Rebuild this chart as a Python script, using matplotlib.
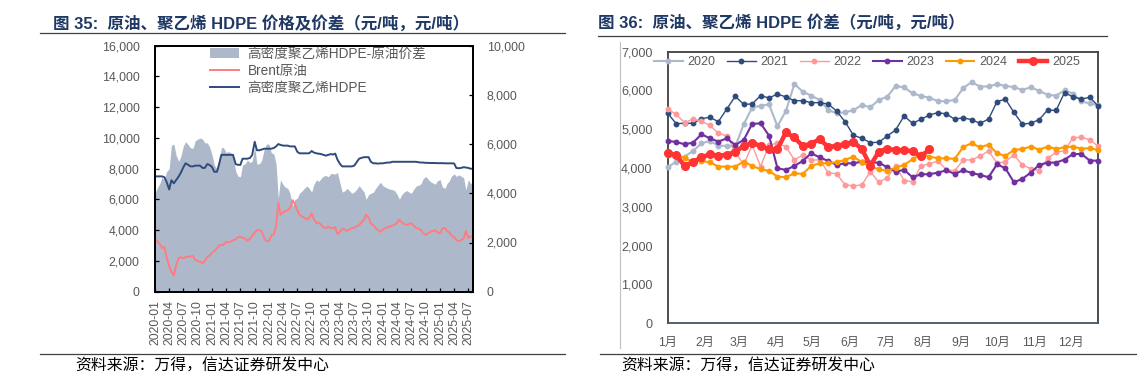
import numpy as np
import pandas as pd
import matplotlib
matplotlib.use('Agg')
import matplotlib.pyplot as plt
import matplotlib.dates as mdates
from matplotlib.ticker import FuncFormatter, MultipleLocator
from matplotlib.lines import Line2D
from matplotlib.patches import Patch

plt.rcParams['font.family'] = ['Liberation Sans', 'Noto Sans CJK SC']

# ---------------- Left chart data (semi-monthly, 2020-01 .. 2025-08) ----------------
hdpe = [7500, 7500, 7500, 7500, 7450, 7150, 6650, 7250, 7050, 7250,
        7500, 7750, 8100, 8350, 8250, 8150, 8150, 8200, 8200, 8200,
        8050, 8050, 8300, 8250, 8100, 7800, 7800, 8300, 8900, 8900,
        8900, 8900, 8900, 8900, 8300, 8250, 8250, 8650, 8650, 8650,
        8700, 8900, 9750, 9200, 9200, 9250, 9300, 9300, 9300, 9300,
        9350, 9450, 9600, 9550, 9500, 9500, 9500, 9450, 9450, 9450,
        9100, 9000, 9000, 9000, 9000, 9000, 9150, 9050, 9000, 8980,
        8950, 8900, 8850, 8900, 8950, 8920, 8980, 8600, 8300, 8150,
        8150, 8150, 8150, 8150, 8200, 8400, 8650, 8700, 8750, 8750,
        8750, 8450, 8350, 8350, 8330, 8350, 8350, 8380, 8400, 8400,
        8450, 8450, 8450, 8450, 8450, 8450, 8450, 8450, 8450, 8450,
        8450, 8420, 8400, 8400, 8380, 8380, 8370, 8370, 8370, 8360,
        8360, 8360, 8350, 8350, 8350, 8350, 8340, 8050, 8030, 8050,
        8100, 8080, 8050, 8000, 8000]
brent = [3470, 3300, 3100, 2850, 2900, 2280, 1650, 1300, 1050, 1700,
         2200, 2250, 2170, 2250, 2280, 2300, 2320, 2060, 2000, 1950,
         1850, 2000, 2250, 2350, 2550, 2650, 2820, 3000, 3050, 3040,
         3250, 3200, 3250, 3350, 3400, 3550, 3580, 3500, 3450, 3300,
         3450, 3600, 3850, 4010, 4000, 3900, 3500, 3300, 3300, 3650,
         3750, 4250, 5800, 5000, 5150, 5250, 5300, 5450, 5950, 5700,
         5300, 5000, 4900, 4800, 4700, 4800, 5100, 4700, 4450, 4500,
         4350, 4200, 4125, 4233, 4150, 4120, 4200, 3750, 3900, 4100,
         4050, 3950, 4050, 4150, 4150, 4250, 4340, 4500, 4690, 5000,
         4800, 4450, 4300, 4150, 4000, 3900, 4050, 4125, 4200, 4233,
         4300, 4340, 4500, 4690, 4500, 4400, 4340, 4400, 4450, 4300,
         4150, 4100, 4015, 3800, 3700, 3800, 3900, 3950, 4000, 3850,
         3800, 4100, 4150, 3950, 3850, 3650, 3550, 3365, 3280, 3350,
         3470, 3950, 3500, 3600, 3550]
dates = pd.date_range('2020-01-01', periods=len(hdpe), freq='SMS')
spread = np.array(hdpe) - np.array(brent)

label_spread = '高密度聚乙烯HDPE-原油价差'
label_brent = 'Brent原油'
label_hdpe = '高密度聚乙烯HDPE'

# ---------------- Right chart data (weekly spread by year) ----------------
years = ['2020', '2021', '2022', '2023', '2024', '2025']
y2020 = [4021, 4167, 4296, 4442, 4640, 4700, 4579, 4571, 4554, 5129,
         5558, 5609, 5640, 5080, 5472, 6167, 5970, 5867, 5755, 5498,
         5412, 5440, 5490, 5627, 5567, 5755, 5841, 6116, 6080, 5927,
         5860, 5815, 5725, 5725, 5755, 6065, 6215, 6099, 6107, 6163,
         6116, 6090, 6013, 6085, 5988, 5890, 5867, 6005, 5920, 5720,
         5665, 5620]
y2021 = [5412, 5146, 5155, 5155, 5275, 5309, 5197, 5524, 5850, 5644,
         5652, 5867, 5807, 5910, 5833, 5738, 5738, 5687, 5687, 5652,
         5472, 5197, 4845, 4768, 4657, 4665, 4828, 4983, 5343, 5155,
         5258, 5369, 5430, 5395, 5258, 5300, 5245, 5155, 5262, 5712,
         5777, 5438, 5135, 5155, 5250, 5498, 5485, 5948, 5832, 5781,
         5824, 5595]
y2022 = [5520, 5387, 5172, 5266, 5210, 5100, 4897, 4828, 4425, 4082,
         4597, 4039, 4597, 4640, 4554, 4210, 4339, 4210, 4210, 3884,
         3850, 3575, 3541, 3567, 3910, 3635, 3755, 4056, 3678, 3652,
         4056, 4107, 4185, 3960, 3930, 4210, 4210, 4313, 4442, 4130,
         4165, 4339, 4082, 3985, 3932, 4253, 4404, 4450, 4778, 4800,
         4725, 4562]
y2023 = [4700, 4674, 4614, 4657, 4871, 4768, 4682, 4768, 4597, 4725,
         5137, 5155, 4837, 3996, 3953, 4056, 4185, 4382, 4279, 4185,
         4082, 4124, 4124, 4167, 4142, 4142, 4021, 3910, 3953, 3764,
         3841, 3841, 3884, 3940, 3850, 3945, 3875, 3824, 3764, 4099,
         3996, 3635, 3721, 3884, 4082, 4142, 4142, 4220, 4360, 4365,
         4193, 4193]
y2024 = [4339, 4365, 4253, 4167, 4185, 4150, 4039, 4039, 4039, 4167,
         4056, 3970, 3927, 3781, 3764, 3867, 3850, 4056, 4124, 4124,
         4150, 4210, 4296, 4150, 4039, 3970, 3927, 4013, 4082, 4227,
         4365, 4296, 4253, 4250, 4240, 4545, 4640, 4536, 4605, 4383,
         4313, 4468, 4494, 4554, 4476, 4554, 4494, 4536, 4554, 4502,
         4511, 4468]
y2025 = [4400, 4326, 4060, 4155, 4283, 4352, 4318, 4348, 4412, 4575,
         4648, 4575, 4481, 4490, 4918, 4790, 4566, 4631, 4746, 4545,
         4571, 4622, 4673, 4490, 4060, 4425, 4502, 4460, 4460, 4434,
         4305, 4481]
series = [y2020, y2021, y2022, y2023, y2024, y2025]
month_labels = ['1月', '2月', '3月', '4月', '5月', '6月',
                '7月', '8月', '9月', '10月', '11月', '12月']

W, H = 1137, 379
fig = plt.figure(figsize=(W / 100, H / 100), dpi=100)
GRAY = '#595959'
TITLE_C = '#1F3864'
comma = FuncFormatter(lambda v, p: f'{int(v):,}')

# ---------------- Left chart ----------------
ax1 = fig.add_axes([155 / W, 1 - 291.7 / H, 317.7 / W, 246 / H])
ax2 = ax1.twinx()
ax2.fill_between(dates, spread, 0, color='#ADB9CA', lw=0)
ax1.set_zorder(ax2.get_zorder() + 1)
ax1.patch.set_visible(False)
ax1.plot(dates, brent, color='#FF7C80', lw=1.4)
ax1.plot(dates, hdpe, color='#2F4B7C', lw=1.4)
ax1.set_xlim(pd.Timestamp('2020-01-01'), pd.Timestamp('2025-07-29'))
ax1.set_ylim(0, 16000)
ax2.set_ylim(0, 10000)
ax1.yaxis.set_major_locator(MultipleLocator(2000))
ax2.yaxis.set_major_locator(MultipleLocator(2000))
ax1.yaxis.set_major_formatter(comma)
ax2.yaxis.set_major_formatter(comma)
ax1.xaxis.set_major_locator(mdates.MonthLocator(bymonth=[1, 4, 7, 10]))
ax1.xaxis.set_major_formatter(mdates.DateFormatter('%Y-%m'))
for lab in ax1.get_xticklabels():
    lab.set_rotation(90)
ax1.tick_params(axis='y', direction='in', length=3, width=0.9, pad=11,
                labelsize=8.9, labelcolor=GRAY, color='black')
ax1.tick_params(axis='x', direction='in', length=3, width=0.9, pad=6,
                labelsize=8.8, labelcolor=GRAY, color='black')
ax2.tick_params(axis='y', direction='in', length=3, width=0.9, pad=10,
                labelsize=8.9, labelcolor=GRAY, color='black')
for ax in (ax1, ax2):
    for s in ax.spines.values():
        s.set_color('black')
        s.set_linewidth(1.3)

handles = [Patch(facecolor='#ADB9CA', edgecolor='none'),
           Line2D([], [], color='#FF7C80', lw=1.4),
           Line2D([], [], color='#2F4B7C', lw=1.4)]
ax1.legend(handles, [label_spread, label_brent, label_hdpe],
           loc='upper left', bbox_to_anchor=(0.173, 0.995), frameon=False,
           fontsize=9.8, handlelength=2.1, handletextpad=0.65,
           labelspacing=0.22, borderaxespad=0, borderpad=0, labelcolor=GRAY)

# ---------------- Right chart ----------------
ax3 = fig.add_axes([667.7 / W, 1 - 323.3 / H, 430.6 / W, 271.6 / H])
styles = {
    '2020': dict(color='#ADB9CA', lw=1.5, ms=3.2),
    '2021': dict(color='#2F4B7C', lw=1.0, ms=3.2),
    '2022': dict(color='#FF9999', lw=1.0, ms=3.2),
    '2023': dict(color='#7030A0', lw=1.5, ms=3.2),
    '2024': dict(color='#FF9900', lw=1.5, ms=3.2),
    '2025': dict(color='#FF3333', lw=3.2, ms=5.5),
}
for yr, vals in zip(years, series):
    st = styles[yr]
    ax3.plot(np.arange(len(vals)), vals, color=st['color'], lw=st['lw'],
             marker='o', ms=st['ms'], mec=st['color'], mfc=st['color'],
             label=yr, clip_on=False, zorder=3)
ax3.set_xlim(0, 51)
ax3.set_ylim(0, 7000)
ax3.yaxis.set_major_locator(MultipleLocator(1000))
ax3.yaxis.set_major_formatter(comma)
month_pos = [(pd.Timestamp(2021, m, 1).dayofyear - 1) / 7 for m in range(1, 13)]
ax3.set_xticks(month_pos)
ax3.set_xticklabels(month_labels)
ax3.tick_params(axis='y', length=0, pad=11, labelsize=9.1, labelcolor=GRAY)
ax3.tick_params(axis='x', length=0, pad=10, labelsize=8.8, labelcolor=GRAY)
for name, s in ax3.spines.items():
    s.set_color('#404040')
    s.set_linewidth(1.3)
ax3.spines['bottom'].set_color('#44546A')
ax3.legend(ncol=6, loc='center', bbox_to_anchor=(0.463, 0.961), frameon=False,
           fontsize=9.0, handlelength=2.3, handletextpad=0.4, columnspacing=0.9,
           borderaxespad=0, borderpad=0, labelcolor=GRAY)

# thin chart-area border line left of right chart
fig.add_artist(Line2D([620 / W, 620 / W], [1 - 42 / H, 1 - 348 / H],
                      color='#BFBFBF', lw=0.8, transform=fig.transFigure))

# ---------------- Titles, rules, sources ----------------
tfont = dict(fontsize=11.9, fontweight='bold', color=TITLE_C, va='center', ha='left',
             family=['Liberation Sans', 'Noto Sans CJK SC'])
fig.text(53 / W, 1 - 23.5 / H, '图 35:  原油、聚乙烯 HDPE 价格及价差（元/吨，元/吨）', **tfont)
fig.text(598 / W, 1 - 22.5 / H, '图 36:  原油、聚乙烯 HDPE 价差（元/吨，元/吨）', **tfont)
fig.add_artist(Line2D([40 / W, 565 / W], [1 - 33.3 / H] * 2, color='#404040', lw=0.9,
                      transform=fig.transFigure))
fig.add_artist(Line2D([598 / W, 1107 / W], [1 - 35.5 / H] * 2, color='#404040', lw=0.9,
                      transform=fig.transFigure))
fig.add_artist(Line2D([40 / W, 565 / W], [1 - 354 / H] * 2, color='#404040', lw=0.9,
                      transform=fig.transFigure))
fig.add_artist(Line2D([600 / W, 1137 / W], [1 - 354 / H] * 2, color='#404040', lw=0.9,
                      transform=fig.transFigure))
sfont = dict(fontsize=11.4, color='black', va='center', ha='left',
             family=['Noto Sans CJK SC', 'DejaVu Sans'])
fig.text(75 / W, 1 - 365 / H, '资料来源：万得，信达证券研发中心', **sfont)
fig.text(621 / W, 1 - 365 / H, '资料来源：万得，信达证券研发中心', **sfont)

fig.savefig('out.png', dpi=100)
